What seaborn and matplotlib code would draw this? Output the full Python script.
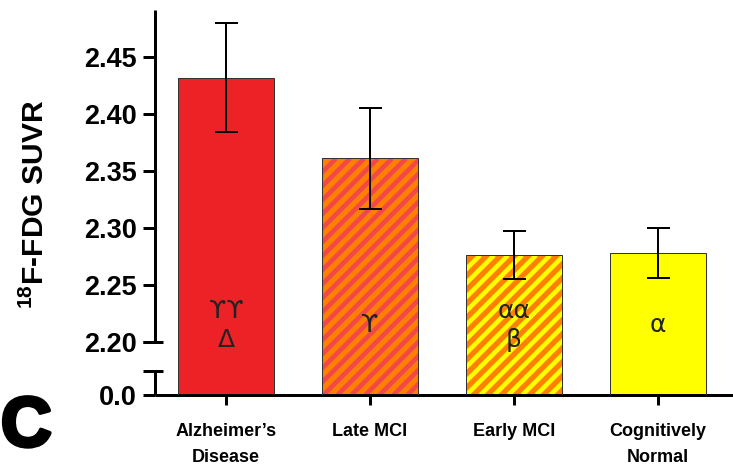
import numpy as np
import matplotlib
matplotlib.use("Agg")
import matplotlib.pyplot as plt
import matplotlib.patheffects as pe
from matplotlib.collections import LineCollection
from matplotlib.transforms import IdentityTransform
import pandas as pd
import seaborn as sns

# ---- data -------------------------------------------------------------
groups = ["Alzheimer\u2019s\nDisease", "Late MCI", "Early MCI", "Cognitively\nNormal"]
suvr_mean = [2.432, 2.361, 2.276, 2.278]
suvr_err = [0.048, 0.044, 0.021, 0.022]
sig_marks = ["\u03d2\u03d2\n\u0394", "\u03d2", "\u03b1\u03b1\n\u03b2", "\u03b1"]
ytick_values = [0.0, 2.20, 2.25, 2.30, 2.35, 2.40, 2.45]
ytick_labels = ["0.0", "2.20", "2.25", "2.30", "2.35", "2.40", "2.45"]

fill_colors = ["#EC2227", "#FF8000", "#FF8000", "#FFFF00"]
stripe_colors = [None, "#F2484A", "#FFFF00", None]

# ---- style ------------------------------------------------------------
sns.set_theme(style="white")
plt.rcParams["font.family"] = ["Liberation Sans", "DejaVu Sans"]
plt.rcParams["text.color"] = "black"
plt.rcParams["mathtext.fontset"] = "custom"
plt.rcParams["mathtext.rm"] = "Liberation Sans"
plt.rcParams["mathtext.bf"] = "Liberation Sans:bold"

DPI = 72
W, H = 733, 473
fig = plt.figure(figsize=(W / DPI, H / DPI), dpi=DPI)
ax = fig.add_axes([155 / W, 1 - 395 / H, (W - 155) / W, (395 - 10) / H])

# ---- broken y axis as a piecewise-linear scale ------------------------
PX = 1 / 1140            # data units per pixel above the break
BREAK_LOW, BREAK_HIGH = 1.0, 2.20
LOW_PX, GAP_PX = 24, 29
f_low_top = BREAK_HIGH - GAP_PX * PX
f_zero = f_low_top - LOW_PX * PX
low_slope = LOW_PX * PX / BREAK_LOW
y_knots = np.array([-100.0, 0.0, BREAK_LOW, BREAK_HIGH, 100.0])
f_knots = np.array([f_zero - 100 * low_slope, f_zero, f_low_top, BREAK_HIGH, 100.0])


def fwd(y):
    return np.interp(y, y_knots, f_knots)


def inv(f):
    return np.interp(f, f_knots, y_knots)


df = pd.DataFrame({"group": groups, "suvr": suvr_mean})

# filled bars
sns.barplot(data=df, x="group", y="suvr", hue="group", palette=fill_colors,
            saturation=1, width=0.667, errorbar=None, legend=False,
            linewidth=0, ax=ax)
filled_bars = list(ax.patches)
for bar in filled_bars:
    bar.set_linewidth(0)
n_filled = len(filled_bars)

# thin dark outlines
sns.barplot(data=df, x="group", y="suvr", fill=False, color="#333333",
            width=0.667, errorbar=None, linewidth=1, ax=ax)
for bar in list(ax.patches)[n_filled:]:
    bar.set_edgecolor("#333333")
    bar.set_linewidth(1)
    bar.set_zorder(3)

ax.errorbar(np.arange(len(groups)), suvr_mean, yerr=suvr_err, fmt="none",
            ecolor="black", elinewidth=2, capsize=11.5, capthick=2, zorder=5)

for i, txt in enumerate(sig_marks):
    ax.text(i, 2.2145, txt, ha="center", va="center", fontsize=25,
            family="DejaVu Sans", color="#222222", linespacing=1.3, zorder=6)

ax.set_yscale("function", functions=(fwd, inv))
ax.set_ylim(0, BREAK_HIGH + 332 * PX)
ax.set_xlim(-71 / 144, (W - 226) / 144)

# ---- axes decoration --------------------------------------------------
for side in ("top", "right", "left"):
    ax.spines[side].set_visible(False)
ax.spines["bottom"].set_linewidth(3)
ax.spines["bottom"].set_color("black")
ax.spines["bottom"].set_capstyle("butt")

ytr = ax.get_yaxis_transform()
axw = W - 155
ax.plot([0, 0], [0, BREAK_LOW], transform=ytr, color="black", lw=3,
        clip_on=False, solid_capstyle="butt", zorder=7)
ax.plot([0, 0], [BREAK_HIGH, ax.get_ylim()[1]], transform=ytr, color="black",
        lw=3, clip_on=False, solid_capstyle="butt", zorder=7)
for yb in (BREAK_LOW, BREAK_HIGH):
    ax.plot([-12 / axw, 8 / axw], [yb, yb], transform=ytr, color="black",
            lw=3, clip_on=False, solid_capstyle="butt", zorder=7)

ax.set_yticks(ytick_values, ytick_labels)
ax.tick_params(axis="y", left=True, length=12, width=3, direction="out",
               pad=6, labelsize=27, color="black", labelcolor="black")
for lbl in ax.get_yticklabels():
    lbl.set_fontweight("bold")

ax.set_xlabel("")
ax.set_ylabel("")
ax.tick_params(axis="x", bottom=True, length=10, width=3, direction="out",
               pad=18, labelsize=18, color="black", labelcolor="black")
for lbl in ax.get_xticklabels():
    lbl.set_fontweight("bold")
    lbl.set_linespacing(1.7)

fig.text(35 / W, 1 - 204 / H, r"$^{\mathbf{18}}$F-FDG SUVR", rotation=90,
         fontsize=30, fontweight="bold", ha="center", va="center")
fig.text(1 / W, 1 - 446 / H, "C", fontsize=70, fontweight="bold",
         ha="left", va="baseline",
         path_effects=[pe.withStroke(linewidth=4, foreground="black")])

# ---- diagonal stripes on the MCI bars, clipped to each bar -------------
fig.canvas.draw()
STRIPE_PERIOD = 14.0     # horizontal spacing in pixels
STRIPE_WIDTH = 4.6
for bar, sc in zip(filled_bars, stripe_colors):
    if sc is None:
        continue
    bb = bar.get_window_extent()
    h = bb.height
    starts = np.arange(bb.x0 - h - STRIPE_PERIOD, bb.x1 + STRIPE_PERIOD, STRIPE_PERIOD)
    segs = [[(x, bb.y0), (x + h, bb.y1)] for x in starts]
    lc = LineCollection(segs, colors=sc, linewidths=STRIPE_WIDTH,
                        transform=IdentityTransform(), zorder=2.5)
    ax.add_collection(lc, autolim=False)
    lc.set_clip_path(bar)

fig.savefig("out.png", dpi=DPI)
